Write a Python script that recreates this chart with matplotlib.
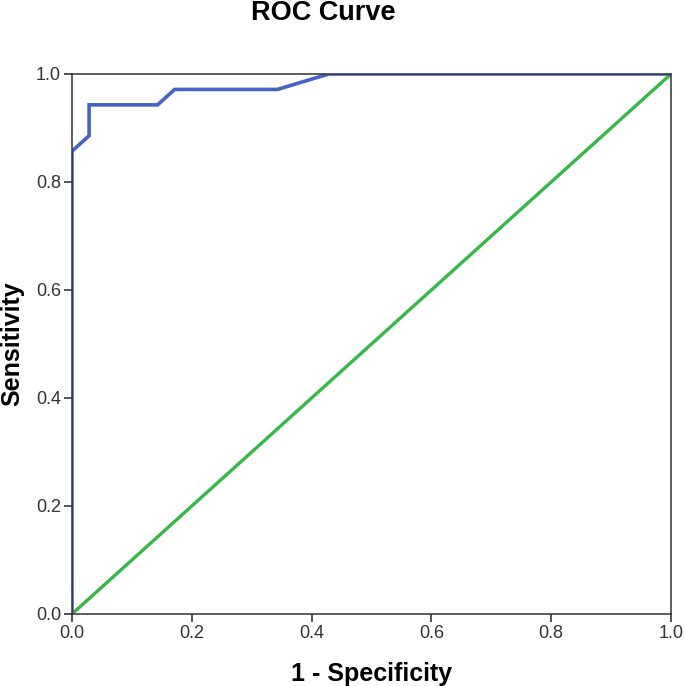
import matplotlib
matplotlib.use("Agg")
import matplotlib.pyplot as plt

# ROC points (35 positives, 35 negatives)
fpr = [0, 0, 1/35, 1/35, 5/35, 6/35, 12/35, 15/35, 1.0]
tpr = [0, 30/35, 31/35, 33/35, 33/35, 34/35, 34/35, 1.0, 1.0]
ref_line = [0, 1]
ticks = [0.0, 0.2, 0.4, 0.6, 0.8, 1.0]
tick_labels = ["0.0", "0.2", "0.4", "0.6", "0.8", "1.0"]

plt.rcParams["font.family"] = ["Liberation Sans", "DejaVu Sans"]

fig = plt.figure(figsize=(6.85, 6.86), dpi=100)
ax = fig.add_axes([72 / 685, 72 / 686, 599 / 685, 540 / 686])

ax.plot(ref_line, ref_line, color="#35b847", lw=2.4, solid_capstyle="butt")
ax.plot(fpr, tpr, color="#4563c0", lw=2.6, solid_joinstyle="miter")

ax.set_xlim(0, 1)
ax.set_ylim(0, 1)
ax.set_xticks(ticks)
ax.set_xticklabels(tick_labels)
ax.set_yticks(ticks)
ax.set_yticklabels(tick_labels)
ax.tick_params(direction="out", length=6, width=1.2, color="#333333",
               labelsize=13, labelcolor="#333333", pad=2)
for sp in ax.spines.values():
    sp.set_color("#333333")
    sp.set_linewidth(1.1)
    sp.set_zorder(4)

ax.set_xlabel("1 - Specificity", fontsize=18, fontweight="bold", labelpad=14)
ax.set_ylabel("Sensitivity", fontsize=18, fontweight="bold", labelpad=8)
fig.text(323 / 685, 1 - 13 / 686, "ROC Curve", fontsize=19.5,
         fontweight="bold", ha="center", va="center")

fig.savefig("out.png", dpi=100)
